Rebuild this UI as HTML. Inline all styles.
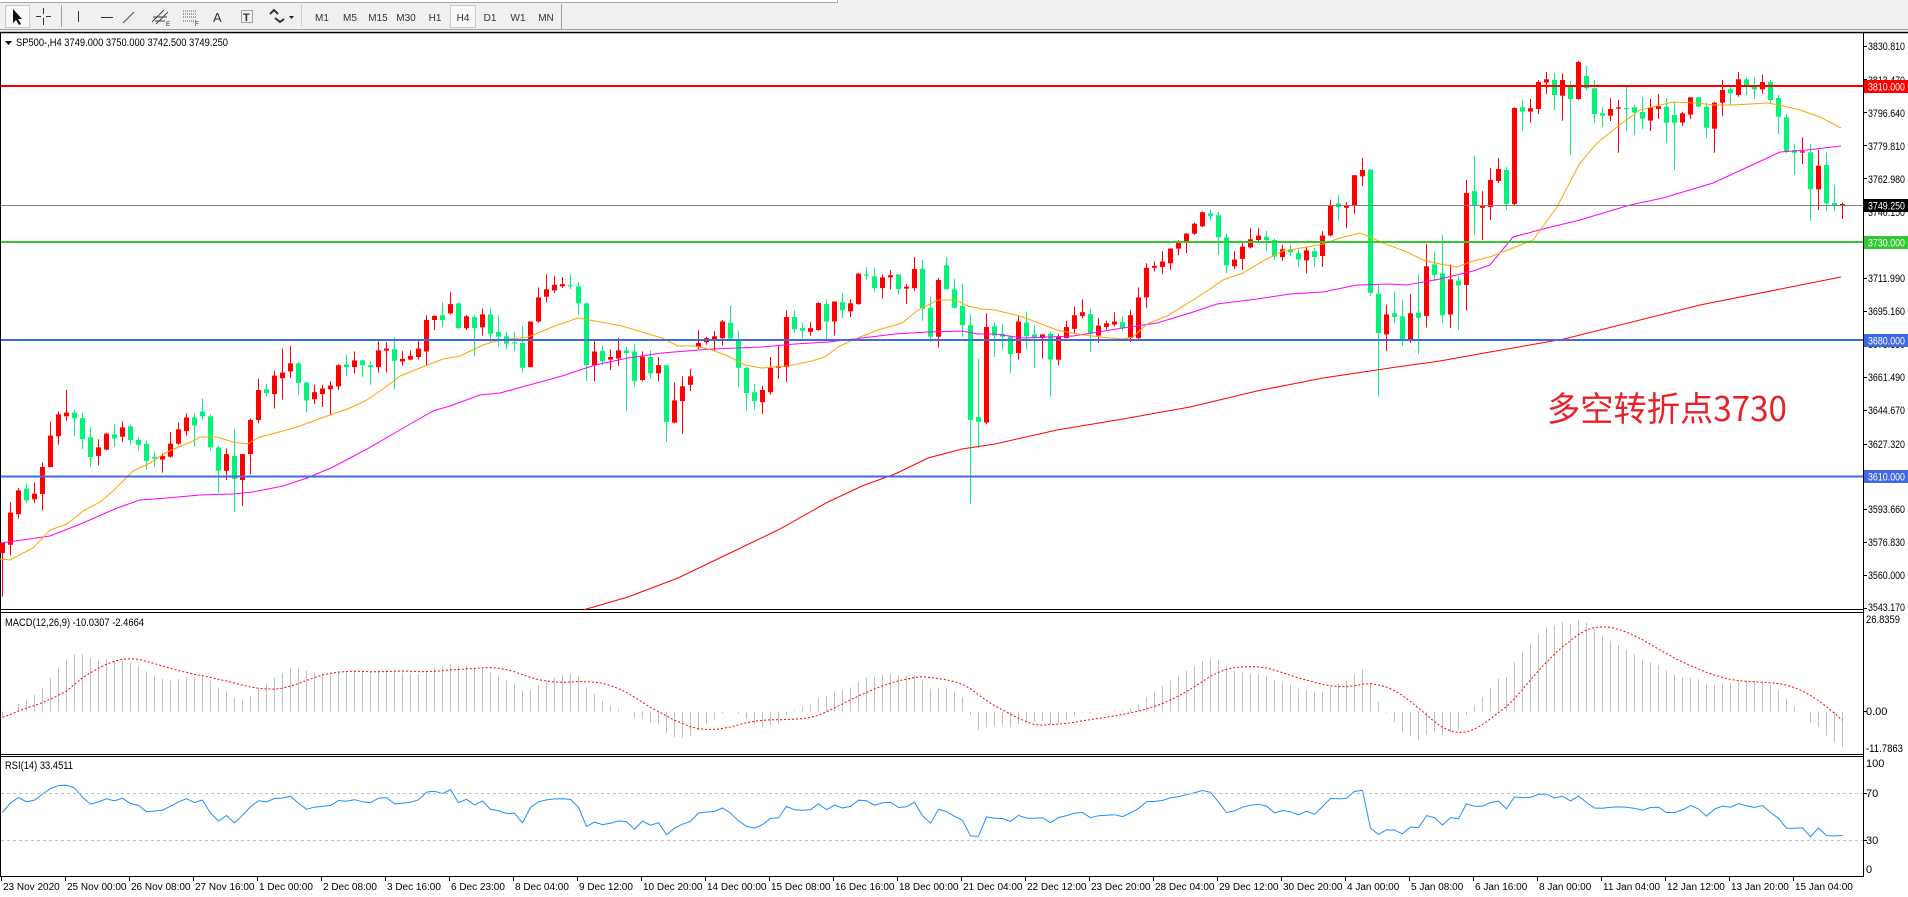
<!DOCTYPE html>
<html><head><meta charset="utf-8"><style>
html,body{margin:0;padding:0;background:#fff;}
svg{display:block;font-family:"Liberation Sans",Arial,sans-serif;}
</style></head><body>
<svg id="s" width="1908" height="897" viewBox="0 0 1908 897" xmlns="http://www.w3.org/2000/svg">
<rect x="0" y="0" width="1908" height="897" fill="#fff"/>
<!-- toolbar -->
<rect x="0" y="0" width="1908" height="31" fill="#f0f0f0"/>
<rect x="0" y="0" width="837" height="2" fill="#fff"/>
<line x1="0" y1="2.5" x2="837" y2="2.5" stroke="#a8a8a8"/>
<line x1="837.5" y1="0" x2="837.5" y2="3" stroke="#a8a8a8"/>
<rect x="660" y="0" width="25" height="2" fill="#fff"/>
<line x1="0" y1="29.5" x2="1908" y2="29.5" stroke="#a0a0a0"/>
<rect x="5.5" y="5.5" width="24" height="22" fill="#f8f8f8" stroke="#c8c8c8"/>
<path d="M13 9 L13 23 L16 20 L19 25 L21 24 L18 19 L22 19 Z" fill="#111"/>
<path d="M43.5 8 V14 M43.5 18 V25 M36 16.5 H41 M46 16.5 H51" stroke="#333" stroke-width="1"/>
<line x1="61.5" y1="5" x2="61.5" y2="27" stroke="#a0a0a0"/>
<line x1="78.5" y1="11" x2="78.5" y2="22" stroke="#333"/>
<line x1="101" y1="17.5" x2="113" y2="17.5" stroke="#333"/>
<line x1="123" y1="23" x2="134" y2="12" stroke="#555"/>
<path d="M152 22 L164 10 M156 24 L168 12 M153 17 H167 M155 21 H165" stroke="#444" stroke-width="1" fill="none"/>
<text x="166" y="26" font-size="6" fill="#222">E</text>
<path d="M183 11 H197 M183 14 H197 M183 17 H197 M183 21 H197" stroke="#555" stroke-dasharray="1,1"/>
<text x="195" y="26" font-size="6" fill="#222">F</text>
<text x="213" y="22" font-size="13" fill="#333">A</text>
<rect x="241.5" y="10.5" width="11" height="12" fill="none" stroke="#555" stroke-dasharray="1,1"/>
<text x="243" y="21" font-size="11" font-weight="bold" fill="#333">T</text>
<path d="M270 14 l4 -4 l4 4 M275 18 l5 4 l4 -3" stroke="#333" stroke-width="2" fill="none"/>
<path d="M289 16 h5 l-2.5 3 z" fill="#222"/>
<path d="M301.5 5 V27" stroke="#b0b0b0" stroke-dasharray="1,1"/>
<g font-size="10" fill="#333" text-anchor="middle">
<text x="322" y="21">M1</text><text x="350" y="21">M5</text><text x="378" y="21">M15</text><text x="406" y="21">M30</text><text x="435" y="21">H1</text>
<rect x="450.5" y="5.5" width="25" height="22" fill="#f8f8f8" stroke="#c8c8c8"/>
<text x="463" y="21">H4</text><text x="490" y="21">D1</text><text x="518" y="21">W1</text><text x="546" y="21">MN</text>
</g>
<line x1="561.5" y1="4" x2="561.5" y2="29" stroke="#a0a0a0"/>

<!-- frames -->
<line x1="0" y1="32.5" x2="1908" y2="32.5" stroke="#000" stroke-width="1.5"/>
<line x1="0.5" y1="33" x2="0.5" y2="877" stroke="#000"/>
<line x1="1863.5" y1="33" x2="1863.5" y2="877" stroke="#000"/>
<line x1="0" y1="609.5" x2="1864" y2="609.5" stroke="#000"/>
<line x1="0" y1="612.5" x2="1864" y2="612.5" stroke="#000"/>
<line x1="0" y1="754.5" x2="1864" y2="754.5" stroke="#000"/>
<line x1="0" y1="756.5" x2="1864" y2="756.5" stroke="#000"/>
<line x1="0" y1="876.5" x2="1864" y2="876.5" stroke="#000"/>

<!-- title -->
<path d="M5 41 h7 l-3.5 4 z" fill="#000"/>
<text x="16" y="46" font-size="11" textLength="212" lengthAdjust="spacingAndGlyphs">SP500-,H4  3749.000 3750.000 3742.500 3749.250</text>

<g id="dyn"></g>

<!-- horizontal lines -->
<line x1="1" y1="205.5" x2="1863" y2="205.5" stroke="#808080"/>
<line x1="1" y1="86" x2="1863" y2="86" stroke="#ff0000" stroke-width="2"/>
<line x1="1" y1="242" x2="1863" y2="242" stroke="#32c832" stroke-width="2"/>
<line x1="1" y1="340" x2="1863" y2="340" stroke="#4169e1" stroke-width="2"/>
<line x1="1" y1="476.5" x2="1863" y2="476.5" stroke="#4169e1" stroke-width="2"/>

<!-- price axis labels -->
<g font-size="11" fill="#000">
<text x="1868" y="50" textLength="37" lengthAdjust="spacingAndGlyphs">3830.810</text>
<text x="1868" y="84" textLength="37" lengthAdjust="spacingAndGlyphs">3813.470</text>
<text x="1868" y="117" textLength="37" lengthAdjust="spacingAndGlyphs">3796.640</text>
<text x="1868" y="150" textLength="37" lengthAdjust="spacingAndGlyphs">3779.810</text>
<text x="1868" y="183" textLength="37" lengthAdjust="spacingAndGlyphs">3762.980</text>
<text x="1868" y="216" textLength="37" lengthAdjust="spacingAndGlyphs">3746.150</text>
<text x="1868" y="249" textLength="37" lengthAdjust="spacingAndGlyphs">3729.320</text>
<text x="1868" y="282" textLength="37" lengthAdjust="spacingAndGlyphs">3711.990</text>
<text x="1868" y="315" textLength="37" lengthAdjust="spacingAndGlyphs">3695.160</text>
<text x="1868" y="348" textLength="37" lengthAdjust="spacingAndGlyphs">3678.330</text>
<text x="1868" y="381" textLength="37" lengthAdjust="spacingAndGlyphs">3661.490</text>
<text x="1868" y="414" textLength="37" lengthAdjust="spacingAndGlyphs">3644.670</text>
<text x="1868" y="448" textLength="37" lengthAdjust="spacingAndGlyphs">3627.320</text>
<text x="1868" y="481" textLength="37" lengthAdjust="spacingAndGlyphs">3610.490</text>
<text x="1868" y="513" textLength="37" lengthAdjust="spacingAndGlyphs">3593.660</text>
<text x="1868" y="546" textLength="37" lengthAdjust="spacingAndGlyphs">3576.830</text>
<text x="1868" y="579" textLength="37" lengthAdjust="spacingAndGlyphs">3560.000</text>
<text x="1868" y="611" textLength="37" lengthAdjust="spacingAndGlyphs">3543.170</text>
</g>
<g stroke="#000">
<path d="M1863 46.5h4M1863 79.5h4M1863 112.5h4M1863 145.5h4M1863 178.5h4M1863 211.5h4M1863 244.5h4M1863 278.5h4M1863 311.5h4M1863 344.5h4M1863 377.5h4M1863 410.5h4M1863 444.5h4M1863 476.5h4M1863 509.5h4M1863 542.5h4M1863 575.5h4M1863 608.5h4M1863 711.5h4M1863 793.5h4M1863 840.5h4"/>
</g>
<rect x="1864" y="80" width="44" height="13" fill="#ff0000"/>
<text x="1868" y="90.5" font-size="11" fill="#fff" textLength="37" lengthAdjust="spacingAndGlyphs">3810.000</text>
<rect x="1864" y="199" width="44" height="13" fill="#000"/>
<text x="1868" y="209.5" font-size="11" fill="#fff" textLength="37" lengthAdjust="spacingAndGlyphs">3749.250</text>
<rect x="1864" y="236" width="44" height="13" fill="#32c832"/>
<text x="1868" y="246.5" font-size="11" fill="#fff" textLength="37" lengthAdjust="spacingAndGlyphs">3730.000</text>
<rect x="1864" y="334" width="44" height="13" fill="#4169e1"/>
<text x="1868" y="344.5" font-size="11" fill="#fff" textLength="37" lengthAdjust="spacingAndGlyphs">3680.000</text>
<rect x="1864" y="470" width="44" height="13" fill="#4169e1"/>
<text x="1868" y="480.5" font-size="11" fill="#fff" textLength="37" lengthAdjust="spacingAndGlyphs">3610.000</text>

<!-- chinese annotation -->
<text x="1547" y="421" font-size="34" fill="#e8202a" font-family="'Noto Sans CJK SC','WenQuanYi Zen Hei',sans-serif" textLength="240" lengthAdjust="spacingAndGlyphs">多空转折点3730</text>

<!-- MACD / RSI labels -->
<text x="5" y="626" font-size="11" fill="#000" textLength="139" lengthAdjust="spacingAndGlyphs">MACD(12,26,9) -10.0307 -2.4664</text>
<text x="1866" y="623" font-size="11" textLength="34" lengthAdjust="spacingAndGlyphs">26.8359</text>
<text x="1866" y="715" font-size="11">0.00</text>
<text x="1866" y="752" font-size="11" textLength="37" lengthAdjust="spacingAndGlyphs">-11.7863</text>
<text x="5" y="769" font-size="11" fill="#000" textLength="68" lengthAdjust="spacingAndGlyphs">RSI(14) 33.4511</text>
<line x1="1" y1="793.5" x2="1863" y2="793.5" stroke="#c0c0c0" stroke-dasharray="3,3"/>
<line x1="1" y1="840.5" x2="1863" y2="840.5" stroke="#c0c0c0" stroke-dasharray="3,3"/>
<text x="1866" y="767" font-size="11">100</text>
<text x="1866" y="797" font-size="11">70</text>
<text x="1866" y="844" font-size="11">30</text>
<text x="1866" y="873" font-size="11">0</text>

<!-- time axis -->
<g font-size="10" fill="#000">
<text x="3" y="890">23 Nov 2020</text><text x="67" y="890">25 Nov 00:00</text><text x="131" y="890">26 Nov 08:00</text><text x="195" y="890">27 Nov 16:00</text><text x="259" y="890">1 Dec 00:00</text><text x="323" y="890">2 Dec 08:00</text><text x="387" y="890">3 Dec 16:00</text><text x="451" y="890">6 Dec 23:00</text><text x="515" y="890">8 Dec 04:00</text><text x="579" y="890">9 Dec 12:00</text><text x="643" y="890">10 Dec 20:00</text><text x="707" y="890">14 Dec 00:00</text><text x="771" y="890">15 Dec 08:00</text><text x="835" y="890">16 Dec 16:00</text><text x="899" y="890">18 Dec 00:00</text><text x="963" y="890">21 Dec 04:00</text><text x="1027" y="890">22 Dec 12:00</text><text x="1091" y="890">23 Dec 20:00</text><text x="1155" y="890">28 Dec 04:00</text><text x="1219" y="890">29 Dec 12:00</text><text x="1283" y="890">30 Dec 20:00</text><text x="1347" y="890">4 Jan 00:00</text><text x="1411" y="890">5 Jan 08:00</text><text x="1475" y="890">6 Jan 16:00</text><text x="1539" y="890">8 Jan 00:00</text><text x="1603" y="890">11 Jan 04:00</text><text x="1667" y="890">12 Jan 12:00</text><text x="1731" y="890">13 Jan 20:00</text><text x="1795" y="890">15 Jan 04:00</text>
</g>
<g id="ticks" stroke="#000"></g>
</svg>
<script>
(function(){
var dyn=document.getElementById("dyn");
var Y1=function(z){return 30+z/2.7;}, Y2=function(z){return 20+z/3;};
var A="r,1385,1412,1385,1530;r,1303,1390,1275,1418;r,1243,1307,1237,1320;g,1238,1270,1225,1278;r,1252,1267,1222,1278;r,1180,1253,1168,1297;r,1095,1180,1057,1180;r,1038,1097,1030,1120;r,1033,1043,972,1055;g,1033,1048,1025,1095;g,1048,1105,1033,1132;g,1100,1153,1072,1180;r,1127,1150,1105,1175;r,1090,1133,1088,1135;g,1092,1103,1065,1125;r,1073,1098,1057,1112;g,1070,1107,1065,1120;g,1107,1120,1100,1135;g,1118,1163,1108,1188;g,1152,1157,1138,1180;r,1150,1160,1143,1195;r,1117,1152,1085,1155;r,1078,1117,1060,1120;r,1046,1083,1035,1095;g,1046,1068,1035,1125;g,1030,1043,995,1052;g,1043,1127,1038,1135;g,1127,1190,1122,1250;r,1145,1190,1130,1215;g,1150,1212,1077,1302;r,1145,1215,1145,1285;r,1053,1145,1050,1200;r,972,1053,942,1062;g,970,980,955,990;r,933,983,920,1022;r,925,940,860,998;r,900,922,853,940;g,900,953,897,985;g,952,1000,950,1032;r,978,997,958,1010;r,968,983,958,1018;r,960,970,948,1040;r,905,962,903,972;g,903,910,877,935;r,892,910,868,927;g,892,905,890,937;g,905,910,893,958;r,865,910,840,925;r,860,866,843,925;g,862,893,830,970;r,888,895,867,907;r,880,890,865,892;r,860,883,840,890;r,783,868,770,905;r,772,783,770,810;g,770,783,735,802;r,740,765,708,768;g,738,805,735,808;r,773,805,770,810;g,775,805,770,880;r,768,803,752,825;g,768,820,752,845;g,815,828,770,855";
var B="g,827,847,815,862;g,843,845,815,867;g,845,912,800,925;r,787,910,787,910;r,722,787,695,790;r,700,720,660,735;r,688,703,665,710;r,686,692,667,697;g,689,690,660,700;g,692,738,680,768;g,738,905,735,948;r,868,905,840,948;g,866,895,852,905;r,883,890,862,918;r,865,887,832,907;g,865,872,855,1028;g,868,948,848,962;r,882,945,868,948;g,883,927,865,940;r,905,927,883,948;g,905,1058,905,1112;r,1000,1060,952,1062;r,962,1002,935,1090;r,935,958,915,975;r,845,855,810,862;r,832,843,828,850;r,827,835,813,865;r,787,832,783,852;g,790,833,745,840;g,838,912,812,965;g,912,980,910,1028;g,978,1002,955,1025;r,972,1005,960,1037;r,912,978,883,985;r,907,912,853,942;r,775,910,757,950;g,775,808,757,818;g,805,812,790,832;r,805,815,788,825;r,737,810,735,812;g,740,787,727,835;r,733,787,733,825;g,735,757,710,778;r,738,760,727,775;r,658,740,656,742;g,660,663,640,675;g,665,697,642,708;r,668,697,660,725;r,662,668,648,700;g,660,700,660,715;r,693,698,686,740;r,645,697,613,705;g,645,753,620,785;g,750,828,720,842;r,675,828,670,857;g,635,700,613,700;g,700,750,672,752;g,745,797,685,828;g,797,1053,768,1280;g,1045,1058,888,1128;r,802,1060,765,1065;g,800,825,790,883";
var C="g,820,828,793,863;g,828,875,825,927;r,787,872,770,890;g,790,827,760,862;g,822,830,798,912;r,822,832,822,887;g,820,890,815,990;r,828,890,820,905;r,802,832,785,832;r,770,807,747,820;r,762,772,727,778;g,767,820,752,870;r,798,825,778,845;r,792,802,785,808;r,787,795,762,800;g,788,805,773,812;r,770,832,755,842;r,722,832,695,840;r,642,722,630,750;r,637,642,625,652;r,625,640,597,660;r,590,630,590,648;r,575,590,567,608;r,550,570,548,602;r,523,550,520,553;r,492,530,490,532;g,495,502,485,515;g,500,560,490,607;g,560,635,550,657;r,620,638,597,645;r,585,618,575,648;r,565,587,535,590;r,555,567,535,570;g,558,567,543,597;g,567,612,563,620;r,592,613,580,623;g,592,600,580,610;g,603,620,593,640;r,595,622,585,657;g,597,613,588,640;r,555,610,543,640;r,475,555,458,557;g,468,478,445,512;r,473,480,465,535;r,392,475,392,497;r,378,395,345,422;g,377,710,375,718;g,712,818,688,987;r,768,822,742,867;g,765,775,708,792;g,773,835,730,853;r,765,835,713,845;g,763,777,660,875;r,638,772,578,803;g,633,662,598,678;g,657,770,553,790;r,673,768,633,805;g,677,690,665,810;r,440,688,405,757;g,435,473,340,552;r,473,480,435,567;r,405,478,373,513";
var D="r,447,483,415,490;g,450,552,440,570;r,264,552,262,555;g,262,275,240,333;r,265,275,237,308;r,186,267,180,282;r,178,188,156,222;g,180,225,160,270;r,180,227,160,302;g,200,237,183,405;r,126,237,123,240;g,168,205,138,210;g,205,282,180,308;g,280,287,262,320;r,267,287,235,303;r,262,266,240,398;g,264,266,200,333;g,262,278,255,345;g,276,296,232,327;r,262,302,237,333;r,259,267,222,297;g,260,308,235,368;g,285,308,245,450;r,280,308,275,318;r,232,284,232,297;g,232,260,232,262;g,260,323,248,353;r,248,326,245,398;r,210,248,180,287;g,208,220,200,255;r,178,225,156,230;g,178,195,172,225;g,200,208,172,237;r,186,208,164,222;g,186,240,180,250;g,234,290,225,342;g,292,396,282,400;g,390,398,372,465;r,394,398,352,432;g,397,508,372,603;r,437,508,390,570;g,435,550,395,573;g,549,555,495,573;r,552,556,548,597";
function parse(s,start,Yf){return s.split(";").map(function(t,k){var a=t.split(",");return {c:a[0],x:start+8*k,t:Yf(+a[1]),b:Yf(+a[2]),ht:Yf(+a[3]),hb:Yf(+a[4])};});}
var cs=[].concat(parse(A,1.7,Y1),parse(B,505.7,Y1),parse(C,1001.7,Y1),parse(D,1497.7,Y2));
var h="";
cs.forEach(function(c){
  var col=c.c=="r"?"#ff0000":"#00f57a";
  var xi=Math.round(c.x);
  h+='<line x1="'+(xi+0.5)+'" y1="'+Math.min(c.ht,c.t).toFixed(1)+'" x2="'+(xi+0.5)+'" y2="'+Math.max(c.hb,c.b).toFixed(1)+'" stroke="'+col+'"/>';
  var bh=Math.max(1.2,c.b-c.t);
  h+='<rect x="'+(xi-2)+'" y="'+c.t.toFixed(1)+'" width="5" height="'+bh.toFixed(1)+'" fill="'+col+'"/>';
});
function pl(pts,col,extra){return '<polyline fill="none" stroke="'+col+'" stroke-width="1" '+(extra||"")+' points="'+pts+'"/>';}
var orange="0,559 10,560 33,548 50,530 67,524 83,511 100,502 113,491 133,471 150,463 167,452 193,441 200,437 217,437 233,442 247,444 260,437 283,431 300,426 327,416 350,408 367,400 383,389 400,376 420,368 443,359 460,356 483,345 500,340 528,337 555,326 578,318 595,321 622,326 645,333 662,338 678,346 695,346 712,350 728,356 745,365 762,368 788,366 812,361 825,357 838,347 855,339 878,330 902,323 918,310 938,300 955,300 968,306 982,309 995,310 1007,313 1023,317 1057,330 1077,334 1100,337 1123,339 1133,337 1147,324 1167,316 1190,302 1207,291 1223,280 1243,273 1263,261 1283,251 1307,247 1323,244 1340,238 1360,233 1370,237 1383,243 1407,252 1423,260 1440,264 1457,267 1473,261 1490,257 1533,240 1557,207 1580,163 1597,143 1617,127 1640,110 1673,102 1697,103 1713,105 1733,105 1767,103 1780,105 1800,110 1820,117 1841,128";
var mag="1,543 50,536 83,523 117,508 140,500 167,498 200,495 233,494 253,492 283,486 307,478 333,467 367,449 400,430 433,411 450,406 480,395 500,393 522,387 562,376 595,365 628,358 662,353 712,349 762,347 795,344 828,342 862,338 895,334 928,332 962,331 978,334 995,334 1023,338 1073,336 1123,328 1157,323 1190,313 1217,304 1257,299 1290,294 1323,292 1357,285 1390,284 1407,285 1440,279 1473,271 1490,265 1513,237 1547,228 1580,220 1630,205 1663,198 1713,183 1763,160 1780,152 1807,150 1841,146";
var red="583,610 628,597 678,578 728,554 778,530 828,502 862,486 895,474 928,458 962,449 995,444 1057,430 1123,419 1190,407 1257,391 1323,378 1390,368 1440,361 1490,352 1564,339 1700,305 1841,277";
h+=pl(red,"#ff0000");
h+=pl(mag,"#ff00ff");
h+=pl(orange,"#ffa500");
var cl=cs.map(function(c){var y=c.c=="r"?c.t:c.b;return 3830.81-(y-46)/1.956;});
var e12=cl[0]-3,e26=cl[0]-1,k12=2/13,k26=2/27,macd=[],sig=[];
for(var i=0;i<cl.length;i++){e12=e12+k12*(cl[i]-e12);e26=e26+k26*(cl[i]-e26);macd.push(e12-e26);
  var s=0,n=0;for(var j=Math.max(0,i-8);j<=i;j++){s+=macd[j];n++;} sig.push(s/n);}
var mh="",sp=[];
for(var i=0;i<cl.length;i++){var x=Math.round(cs[i].x)+0.5;var y=711.5-macd[i]*3.62;y=Math.max(614,Math.min(753,y));
  mh+='<line x1="'+x+'" y1="711.5" x2="'+x+'" y2="'+y.toFixed(1)+'" stroke="#c0c0c0"/>';
  var ys=Math.max(614,Math.min(753,711.5-sig[i]*3.62));sp.push(x+","+ys.toFixed(1));}
h+=mh+pl(sp.join(" "),"#ff0000",'stroke-dasharray="2,2"');
var ag=3.0,al=2.6,rp=[];
for(var i=0;i<cl.length;i++){if(i>0){var d=cl[i]-cl[i-1];ag=(ag*13+Math.max(d,0))/14;al=(al*13+Math.max(-d,0))/14;}
  var r=al==0?100:100-100/(1+ag/al);var y=840.3-(r-30)*1.1775;rp.push((Math.round(cs[i].x)+0.5)+","+y.toFixed(1));}
h+=pl(rp.join(" "),"#1e90ff");
dyn.innerHTML=h;
var t="";for(var k=0;k<29;k++){var x=1+64*k+0.5;t+='<line x1="'+x+'" y1="877" x2="'+x+'" y2="881"/>';}
document.getElementById("ticks").innerHTML=t;
})();
</script>
</body></html>
